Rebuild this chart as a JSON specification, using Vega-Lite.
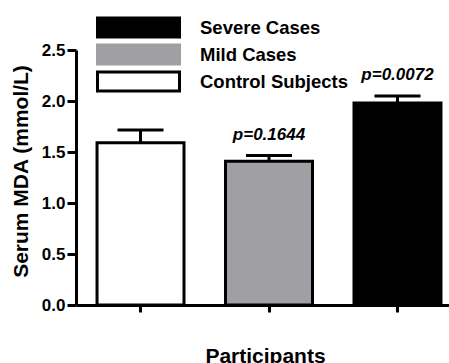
{
  "$schema": "https://vega.github.io/schema/vega-lite/v6.json",
  "width": 373,
  "height": 255,
  "autosize": {"type": "none"},
  "padding": {"left": 76, "top": 50, "right": 0, "bottom": 58},
  "background": "white",
  "config": {"view": {"stroke": null}},
  "data": {
    "values": [
      {"group": "Control Subjects", "value": 1.59, "upper": 1.715, "p": ""},
      {"group": "Mild Cases", "value": 1.41, "upper": 1.465, "p": "p=0.1644"},
      {"group": "Severe Cases", "value": 1.98, "upper": 2.05, "p": "p=0.0072"}
    ]
  },
  "encoding": {
    "x": {
      "field": "group",
      "type": "nominal",
      "sort": ["Control Subjects", "Mild Cases", "Severe Cases"],
      "scale": {"paddingInner": 0.323, "paddingOuter": 0.113, "align": 0.724},
      "axis": {
        "title": "Participants",
        "labels": false,
        "domainColor": "black",
        "domainWidth": 3,
        "tickColor": "black",
        "tickWidth": 3,
        "tickSize": 7,
        "titleFont": "Liberation Sans",
        "titleFontWeight": "bold",
        "titleFontSize": 21,
        "titleColor": "black",
        "titleBaseline": "alphabetic",
        "titleY": 57,
        "titleX": 189
      }
    }
  },
  "layer": [
    {
      "mark": {"type": "bar", "stroke": "black", "strokeWidth": 3, "opacity": 1},
      "encoding": {
        "y": {
          "field": "value",
          "type": "quantitative",
          "scale": {"domain": [0, 2.5], "nice": false},
          "axis": {
            "title": "Serum MDA (mmol/L)",
            "values": [0, 0.5, 1, 1.5, 2, 2.5],
            "format": ".1f",
            "grid": false,
            "domainColor": "black",
            "domainWidth": 3,
            "tickColor": "black",
            "tickWidth": 3,
            "tickSize": 9,
            "labelPadding": 2,
            "labelFont": "Liberation Sans",
            "labelFontWeight": "bold",
            "labelFontSize": 17,
            "labelColor": "black",
            "titleFont": "Liberation Sans",
            "titleFontWeight": "bold",
            "titleFontSize": 21,
            "titleColor": "black",
            "titleAngle": -90,
            "titleBaseline": "alphabetic",
            "titleAlign": "center",
            "titleX": -49,
            "titleY": 121
          }
        },
        "color": {
          "field": "group",
          "type": "nominal",
          "scale": {
            "domain": ["Severe Cases", "Mild Cases", "Control Subjects"],
            "range": ["black", "#a0a0a4", "white"]
          },
          "legend": {
            "orient": "none",
            "legendX": 20,
            "legendY": -32,
            "title": null,
            "padding": 0,
            "symbolType": "M-5.125,-1.1875H5.125V1.1875H-5.125Z",
            "symbolSize": 256,
            "symbolOffset": 33,
            "symbolStrokeWidth": 3,
            "symbolStrokeColor": "black",
            "symbolOpacity": 1,
            "labelFont": "Liberation Sans",
            "labelFontWeight": "bold",
            "labelFontSize": 18.5,
            "labelColor": "black",
            "labelOffset": 52,
            "rowPadding": -4,
            "encode": {
              "symbols": {
                "update": {
                  "stroke": {"signal": "datum.value === 'Mild Cases' ? '#a0a0a4' : 'black'"}
                }
              }
            }
          }
        }
      }
    },
    {
      "mark": {"type": "rule", "color": "black", "strokeWidth": 3},
      "encoding": {
        "y": {"field": "value", "type": "quantitative"},
        "y2": {"field": "upper"}
      }
    },
    {
      "mark": {"type": "tick", "color": "black", "thickness": 3, "size": 46, "opacity": 1},
      "encoding": {
        "y": {"field": "upper", "type": "quantitative"}
      }
    },
    {
      "mark": {
        "type": "text",
        "font": "Liberation Sans",
        "fontWeight": "bold",
        "fontStyle": "italic",
        "fontSize": 17,
        "color": "black",
        "dy": -16,
        "baseline": "alphabetic"
      },
      "encoding": {
        "y": {"field": "upper", "type": "quantitative"},
        "text": {"field": "p"}
      }
    }
  ]
}
